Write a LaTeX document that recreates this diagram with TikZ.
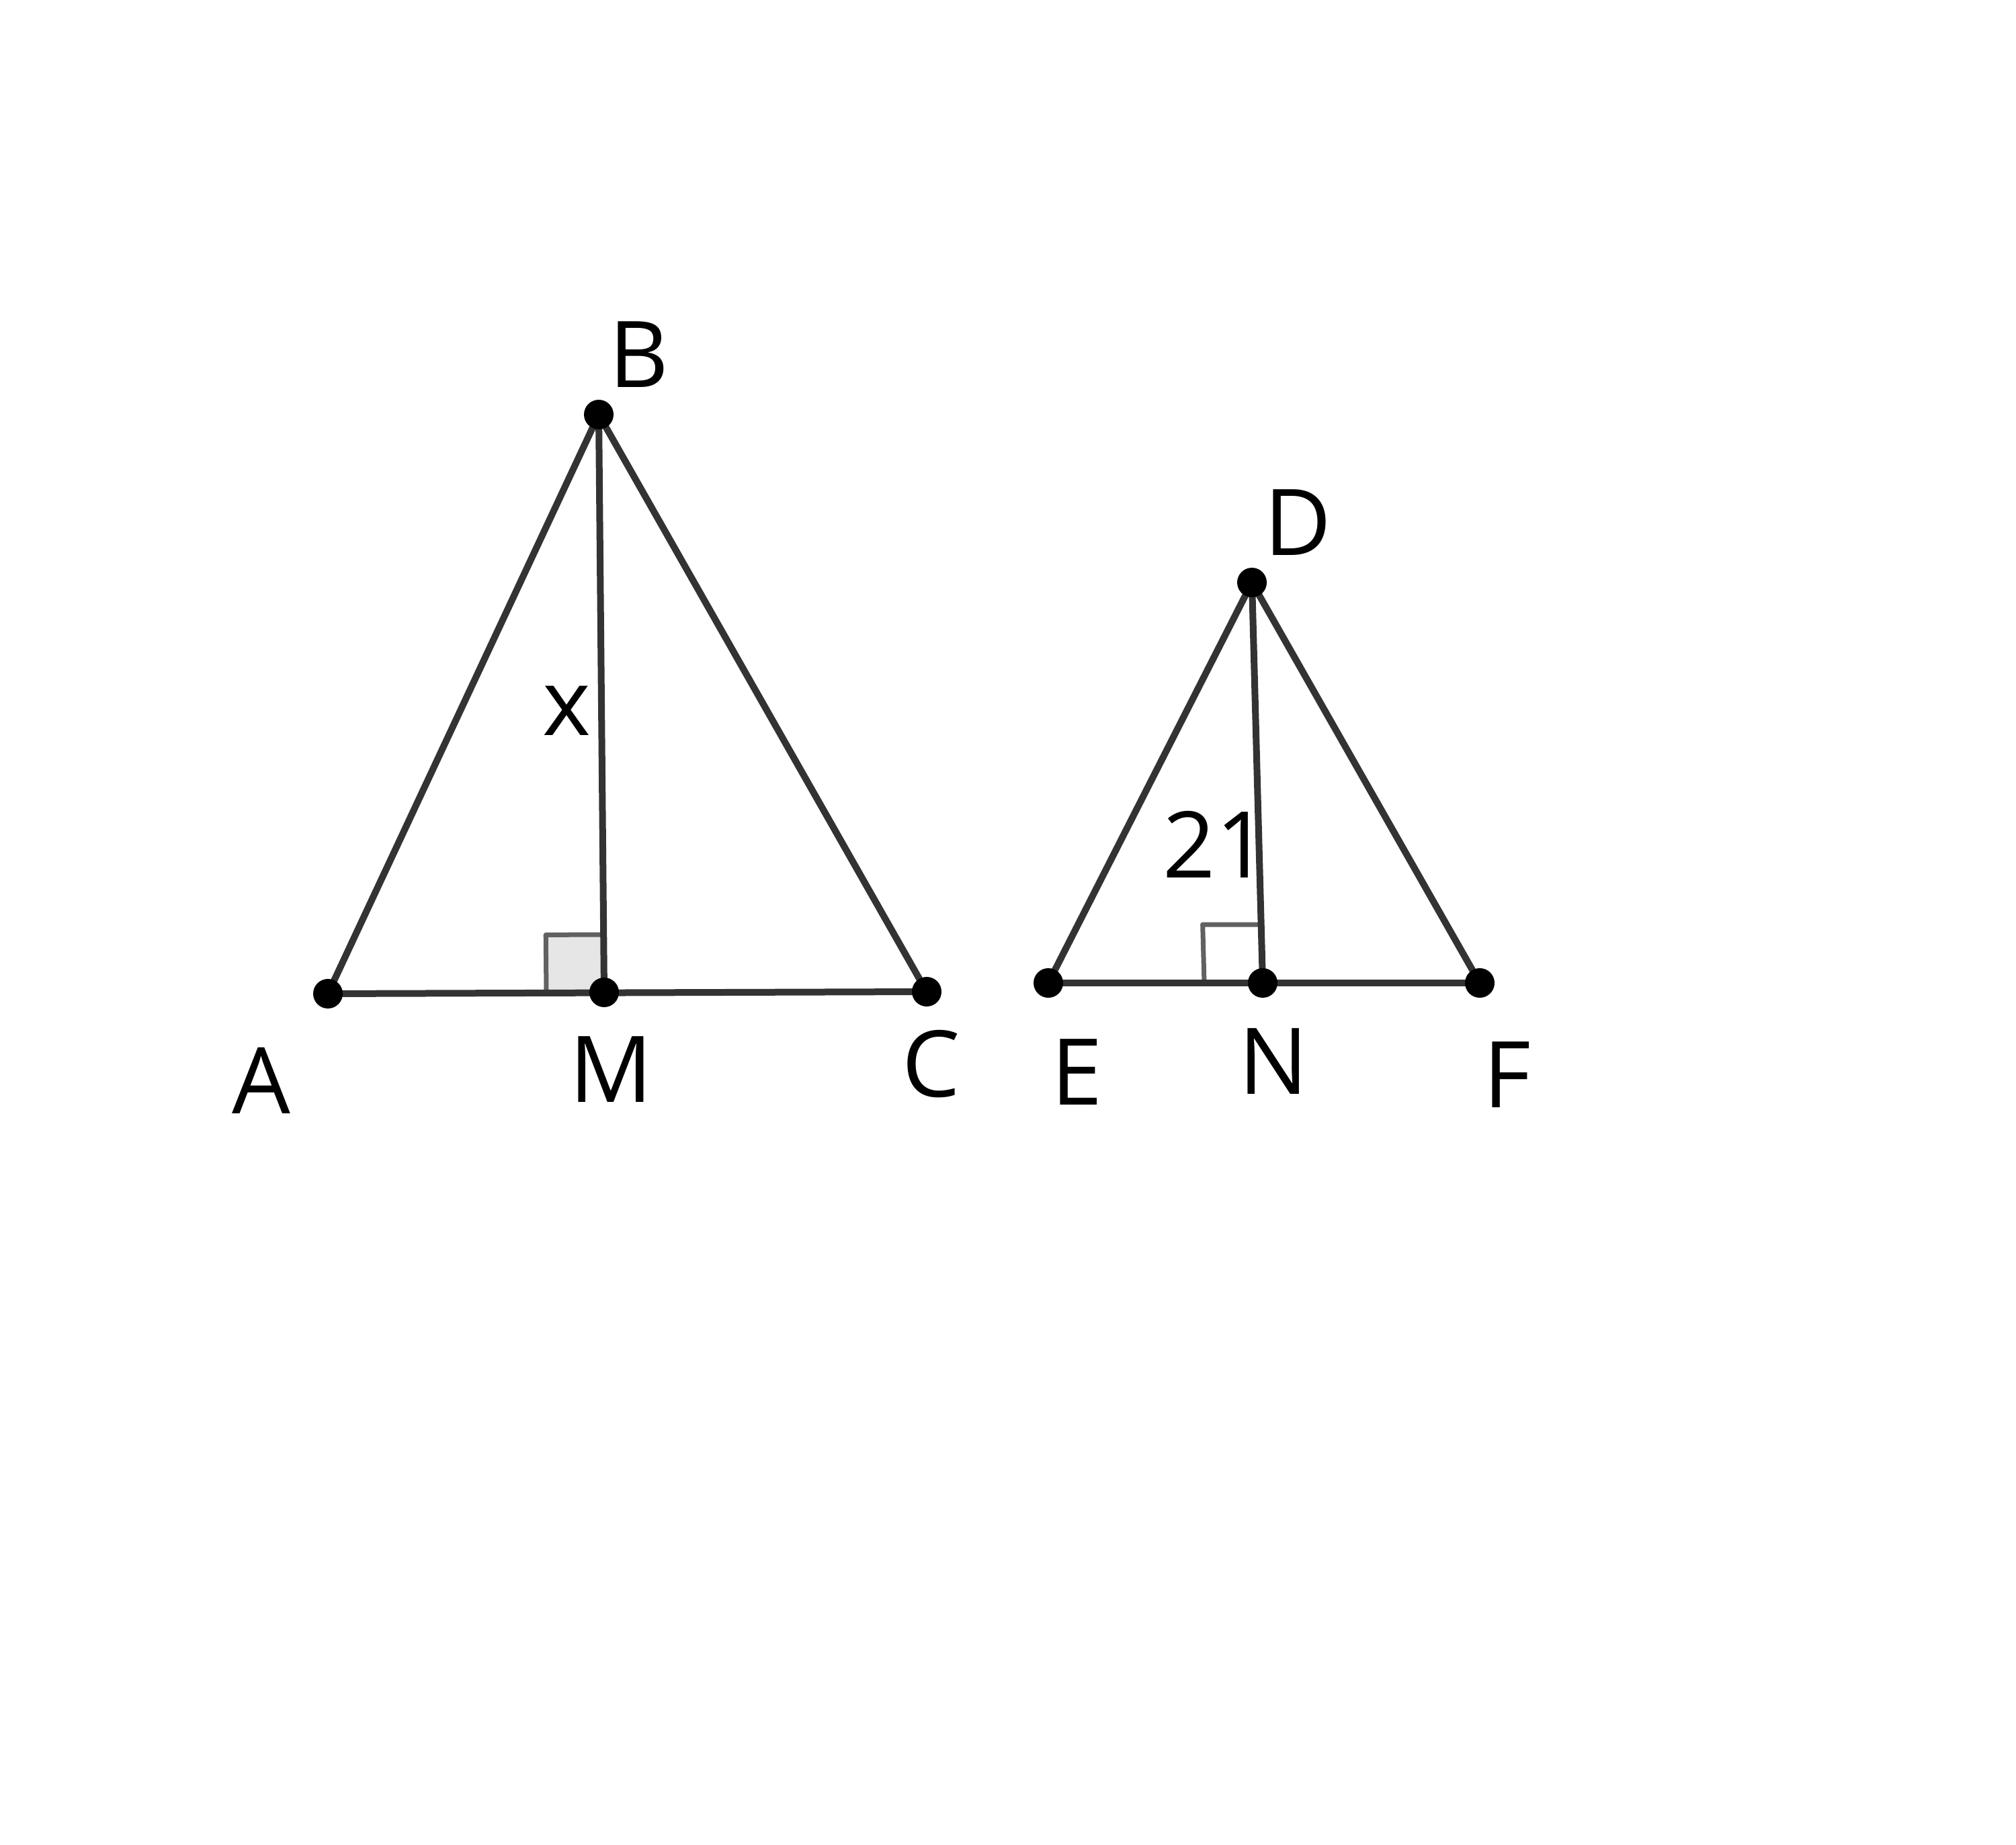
\documentclass[tikz,border=0pt]{standalone}
\usepackage{fontspec}
\setmainfont{Open Sans}
\usepackage{xcolor}
\usetikzlibrary{calc}
\definecolor{GeoLine}{HTML}{333333}
\definecolor{GeoMark}{HTML}{616161}
\definecolor{GeoFill}{HTML}{E6E6E6}

\begin{document}
\begin{tikzpicture}[x=1cm,y=1cm,
  seg/.style={draw=GeoLine,line width=0.10cm},
  rightmark/.style={draw=GeoMark,line width=0.07cm,line join=round},
  ptlabel/.style={inner sep=0pt,font=\fontsize{39pt}{47pt}\selectfont}]
\path[use as bounding box] (0,0) rectangle (30.00,27.45);
% points
\coordinate (A) at (4.88,12.66);
\coordinate (B) at (8.91,21.28);
\coordinate (C) at (13.79,12.69);
\coordinate (M) at (8.99,12.68);
\coordinate (D) at (18.63,18.78);
\coordinate (E) at (15.60,12.82);
\coordinate (N) at (18.79,12.82);
\coordinate (F) at (22.02,12.82);
% right angle marks
\coordinate (MA) at ($(M)!0.86cm!(A)$);
\coordinate (MB) at ($(M)!0.86cm!(B)$);
\filldraw[rightmark,fill=GeoFill] (M) -- (MA) -- ($(MA)+(MB)-(M)$) -- (MB) -- cycle;
\coordinate (NE) at ($(N)!0.87cm!(E)$);
\coordinate (ND) at ($(N)!0.87cm!(D)$);
\draw[rightmark] (N) -- (NE) -- ($(NE)+(ND)-(N)$) -- (ND) -- cycle;
% triangle ABC
\draw[seg] (A) -- (B);
\draw[seg] (B) -- (C);
\draw[seg] (A) -- (C);
\draw[seg] (B) -- (M);
% triangle DEF
\draw[seg] (D) -- (E);
\draw[seg] (D) -- (F);
\draw[seg] (E) -- (F);
\draw[seg] (D) -- (N);
% dots
\foreach \p in {A,B,C,M,D,E,N,F}
  \fill[black] (\p) circle (0.22cm);
% labels
\node[ptlabel] (lA) at (3.89,11.37) {A};
\node[ptlabel] (lB) at (9.51,22.17) {B};
\node[ptlabel] (lC) at (13.86,11.61) {C};
\node[ptlabel] (lM) at (9.09,11.53) {M};
\node[ptlabel] (lD) at (19.31,19.67) {D};
\node[ptlabel] (lE) at (16.03,11.49) {E};
\node[ptlabel] (lN) at (18.95,11.65) {N};
\node[ptlabel] (lF) at (22.43,11.45) {F};
\node[ptlabel] (lx) at (8.43,16.87) {x};
\node[ptlabel] (lh) at (18.09,14.88) {21};
\end{tikzpicture}
\end{document}
